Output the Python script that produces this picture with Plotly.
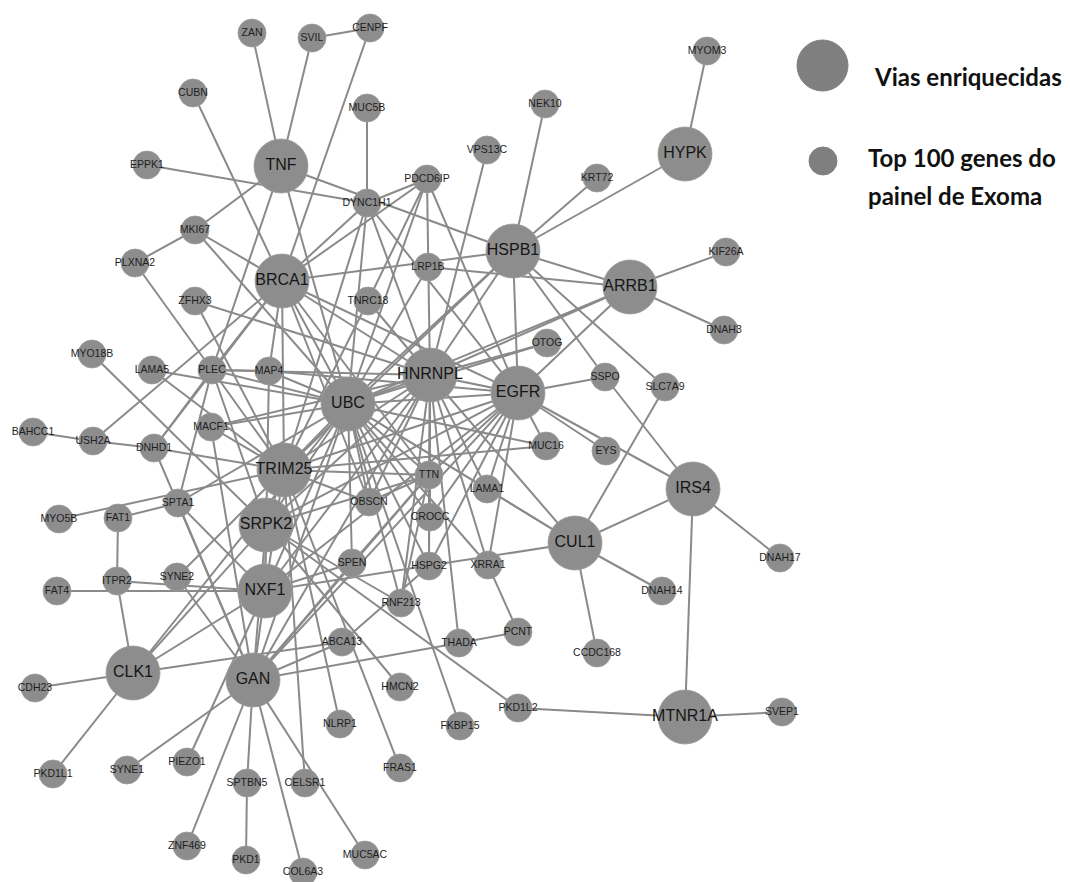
import plotly.graph_objects as go

# Hub genes (enriched pathways) and their layout positions
hub_names = ["TNF", "BRCA1", "HSPB1", "HYPK", "ARRB1", "HNRNPL", "UBC", "EGFR",
             "TRIM25", "SRPK2", "NXF1", "IRS4", "CUL1", "CLK1", "GAN", "MTNR1A"]
hub_x = [281, 282, 513, 685, 630, 430, 348, 518, 284, 266, 265, 693, 575, 133, 253, 685]
hub_y = [166, 281, 251, 154, 287, 375, 404, 393, 470, 525, 591, 489, 543, 673, 680, 717]

# Top exome-panel genes and their layout positions
gene_names = ["ZAN", "SVIL", "CENPF", "CUBN", "MUC5B", "NEK10", "MYOM3", "EPPK1", "VPS13C",
              "KRT72", "PDCD6IP", "DYNC1H1", "MKI67", "PLXNA2", "LRP1B", "KIF26A", "ZFHX3",
              "TNRC18", "DNAH3", "MYO18B", "LAMA5", "PLEC", "MAP4", "OTOG", "SSPO", "SLC7A9",
              "BAHCC1", "USH2A", "MACF1", "DNHD1", "MUC16", "EYS", "TTN", "LAMA1", "OBSCN",
              "CROCC", "SPTA1", "MYO5B", "FAT1", "DNAH17", "SPEN", "HSPG2", "XRRA1", "FAT4",
              "ITPR2", "SYNE2", "RNF213", "DNAH14", "ABCA13", "THADA", "PCNT", "CCDC168",
              "CDH23", "HMCN2", "NLRP1", "FKBP15", "PKD1L2", "SVEP1", "PKD1L1", "SYNE1",
              "PIEZO1", "SPTBN5", "CELSR1", "FRAS1", "ZNF469", "PKD1", "COL6A3", "MUC5AC"]
gene_x = [252, 312, 370, 193, 367, 545, 707, 147, 487,
          597, 427, 367, 195, 135, 428, 726, 195,
          368, 724, 92, 152, 212, 269, 547, 605, 665,
          33, 93, 211, 154, 546, 606, 429, 487, 369,
          430, 178, 59, 118, 780, 352, 429, 488, 57,
          117, 177, 401, 662, 342, 459, 518, 597,
          35, 400, 340, 460, 518, 782, 53, 127,
          187, 247, 305, 400, 187, 246, 303, 365]
gene_y = [33, 38, 28, 93, 108, 104, 51, 165, 150,
          178, 179, 203, 230, 263, 267, 252, 301,
          301, 330, 354, 370, 370, 371, 343, 377, 387,
          432, 441, 427, 448, 446, 451, 475, 489, 502,
          517, 503, 519, 518, 558, 563, 566, 565, 591,
          581, 577, 603, 591, 642, 643, 632, 653,
          688, 687, 724, 726, 708, 712, 774, 770,
          762, 783, 783, 768, 846, 860, 872, 855]

# Interactions
edge_src = [
    "ZAN", "SVIL", "SVIL", "CENPF", "CUBN", "EPPK1", "MUC5B", "TNF",
    "MKI67", "MKI67", "MKI67", "MKI67", "PLXNA2",
    "NEK10", "MYOM3", "HYPK", "KRT72", "VPS13C", "KIF26A", "DNAH3", "HSPB1",
    "PDCD6IP", "PDCD6IP", "PDCD6IP", "PDCD6IP", "PDCD6IP",
    "DYNC1H1", "DYNC1H1", "DYNC1H1", "DYNC1H1", "DYNC1H1",
    "BRCA1", "LRP1B", "LRP1B",
    "HSPB1", "HSPB1", "HSPB1", "HSPB1", "HSPB1", "HSPB1",
    "ZFHX3", "ZFHX3", "TNRC18", "TNRC18", "TNRC18",
    "MYO18B", "LAMA5", "LAMA5", "USH2A", "BAHCC1", "USH2A",
    "DNHD1", "DNHD1", "DNHD1", "DNHD1",
    "PLEC", "PLEC", "PLEC", "PLEC", "PLEC", "PLEC", "PLEC", "TNF",
    "MAP4", "MAP4", "MAP4", "MAP4",
    "MACF1", "MACF1", "MACF1", "MACF1",
    "SPTA1", "SPTA1", "SPTA1", "SPTA1",
    "MYO5B", "FAT1", "ITPR2", "ITPR2", "FAT4", "SYNE2", "SYNE2",
    "CLK1", "CLK1", "CLK1", "CLK1", "CLK1", "CLK1",
    "GAN", "GAN", "GAN", "GAN", "GAN", "GAN",
    "PIEZO1", "SPTBN5", "CELSR1", "NLRP1", "FRAS1", "HMCN2", "FKBP15",
    "PKD1L2", "PKD1L2", "SVEP1",
    "ABCA13", "ABCA13",
    "RNF213", "RNF213", "RNF213", "RNF213",
    "THADA", "THADA", "PCNT",
    "XRRA1", "XRRA1", "XRRA1", "NXF1",
    "HSPG2", "HSPG2", "HSPG2",
    "LAMA1", "LAMA1", "LAMA1", "LAMA1",
    "CROCC", "CROCC", "CROCC",
    "TTN", "TTN", "TTN", "TTN", "TTN", "TTN", "TTN",
    "OBSCN", "OBSCN", "OBSCN", "OBSCN",
    "SPEN", "SPEN", "SPEN", "SPEN",
    "MUC16", "MUC16", "MUC16",
    "EYS", "EGFR", "SSPO", "SSPO", "SLC7A9",
    "OTOG", "OTOG",
    "IRS4", "IRS4", "IRS4",
    "CUL1", "CUL1", "CUL1", "CUL1",
    "ARRB1", "ARRB1", "ARRB1",
    "BRCA1", "BRCA1", "BRCA1", "BRCA1", "BRCA1", "BRCA1",
    "UBC", "UBC", "UBC", "UBC", "UBC", "UBC", "TNF",
    "HNRNPL", "HNRNPL", "HNRNPL", "HNRNPL", "HNRNPL",
    "EGFR", "EGFR", "EGFR", "EGFR",
    "TRIM25", "SRPK2", "NXF1", "SRPK2", "TRIM25",
]
edge_dst = [
    "TNF", "TNF", "CENPF", "BRCA1", "BRCA1", "DYNC1H1", "DYNC1H1", "HSPB1",
    "TNF", "PLXNA2", "BRCA1", "UBC", "PLEC",
    "HSPB1", "HYPK", "HSPB1", "HSPB1", "HNRNPL", "ARRB1", "ARRB1", "ARRB1",
    "DYNC1H1", "UBC", "HNRNPL", "EGFR", "BRCA1",
    "BRCA1", "UBC", "HNRNPL", "EGFR", "TRIM25",
    "HSPB1", "ARRB1", "UBC",
    "EGFR", "HNRNPL", "UBC", "SSPO", "SLC7A9", "TRIM25",
    "HNRNPL", "TRIM25", "HNRNPL", "PDCD6IP", "TRIM25",
    "SRPK2", "UBC", "TRIM25", "BRCA1", "USH2A", "DNHD1",
    "TRIM25", "BRCA1", "GAN", "PLEC",
    "MAP4", "HNRNPL", "UBC", "BRCA1", "TRIM25", "SPTA1", "SRPK2", "PLEC",
    "UBC", "BRCA1", "NXF1", "EGFR",
    "UBC", "HNRNPL", "TRIM25", "GAN",
    "FAT1", "GAN", "UBC", "NXF1",
    "TRIM25", "ITPR2", "CLK1", "NXF1", "NXF1", "TRIM25", "GAN",
    "CDH23", "PKD1L1", "ABCA13", "UBC", "NXF1", "SRPK2",
    "SYNE1", "ZNF469", "SPTBN5", "COL6A3", "MUC5AC", "THADA",
    "NXF1", "PKD1", "TRIM25", "TRIM25", "TRIM25", "SRPK2", "UBC",
    "SRPK2", "MTNR1A", "MTNR1A",
    "HSPG2", "GAN",
    "UBC", "TTN", "SRPK2", "HNRNPL",
    "PCNT", "HNRNPL", "XRRA1",
    "EGFR", "HNRNPL", "UBC", "CUL1",
    "EGFR", "HNRNPL", "UBC",
    "EGFR", "HNRNPL", "CUL1", "UBC",
    "HNRNPL", "UBC", "EGFR",
    "HNRNPL", "UBC", "EGFR", "TRIM25", "SRPK2", "GAN", "HSPG2",
    "UBC", "HNRNPL", "TRIM25", "TTN",
    "UBC", "NXF1", "TTN", "GAN",
    "TRIM25", "EGFR", "UBC",
    "EGFR", "IRS4", "EGFR", "IRS4", "CUL1",
    "HNRNPL", "UBC",
    "CUL1", "DNAH17", "MTNR1A",
    "DNAH14", "CCDC168", "UBC", "HNRNPL",
    "EGFR", "UBC", "HNRNPL",
    "UBC", "HNRNPL", "EGFR", "TRIM25", "OBSCN", "TTN",
    "HNRNPL", "EGFR", "TRIM25", "SRPK2", "NXF1", "GAN", "UBC",
    "EGFR", "TRIM25", "SRPK2", "NXF1", "GAN",
    "TRIM25", "SRPK2", "NXF1", "GAN",
    "SRPK2", "NXF1", "GAN", "GAN", "NXF1",
]

# Legend entries
legend_labels = ["Vias enriquecidas", "Top 100 genes do", "painel de Exoma"]

NODE_FILL = "#8d8d8d"
EDGE_COLOR = "#8a8a8a"

pos = {}
for n, x, y in zip(hub_names, hub_x, hub_y):
    pos[n] = (x, y)
for n, x, y in zip(gene_names, gene_x, gene_y):
    pos[n] = (x, y)

ex, ey = [], []
for a, b in zip(edge_src, edge_dst):
    ex += [pos[a][0], pos[b][0], None]
    ey += [pos[a][1], pos[b][1], None]

fig = go.Figure()
fig.add_trace(go.Scatter(x=ex, y=ey, mode="lines",
                         line=dict(color=EDGE_COLOR, width=2),
                         hoverinfo="skip", showlegend=False))
fig.add_trace(go.Scatter(x=gene_x, y=gene_y, mode="markers+text", text=gene_names,
                         textposition="middle center",
                         textfont=dict(family="Liberation Sans, Arial", size=10.5, color="#1e1e1e"),
                         marker=dict(size=28, color=NODE_FILL, line=dict(width=0.8, color="#9a9a9a")),
                         showlegend=False))
fig.add_trace(go.Scatter(x=hub_x, y=hub_y, mode="markers+text", text=hub_names,
                         textposition="middle center",
                         textfont=dict(family="Liberation Sans, Arial", size=16, color="#161616"),
                         marker=dict(size=54, color=NODE_FILL, line=dict(width=0.8, color="#9a9a9a")),
                         showlegend=False))

# Legend symbols and labels
fig.add_shape(type="circle", xref="x", yref="y", x0=797, x1=848, y0=40, y1=91,
              fillcolor="#7f7f7f", line=dict(color="#7f7f7f", width=1))
fig.add_shape(type="circle", xref="x", yref="y", x0=809, x1=837, y0=147, y1=175,
              fillcolor="#7f7f7f", line=dict(color="#7f7f7f", width=1))
legend_text_pos = [(872, 76), (866, 157), (866, 195)]
for label, (lx, ly) in zip(legend_labels, legend_text_pos):
    fig.add_annotation(x=lx, y=ly, xref="x", yref="y", text="<b>%s</b>" % label,
                       showarrow=False, xanchor="left", yanchor="middle", align="left",
                       font=dict(family="Lato, Carlito, sans-serif", size=24, color="#111111"))

fig.update_layout(width=1070, height=882, autosize=False,
                  margin=dict(l=0, r=0, t=0, b=0),
                  paper_bgcolor="white", plot_bgcolor="white",
                  xaxis=dict(range=[0, 1070], visible=False, fixedrange=True),
                  yaxis=dict(range=[882, 0], visible=False, fixedrange=True))
fig.write_html("out.html")
